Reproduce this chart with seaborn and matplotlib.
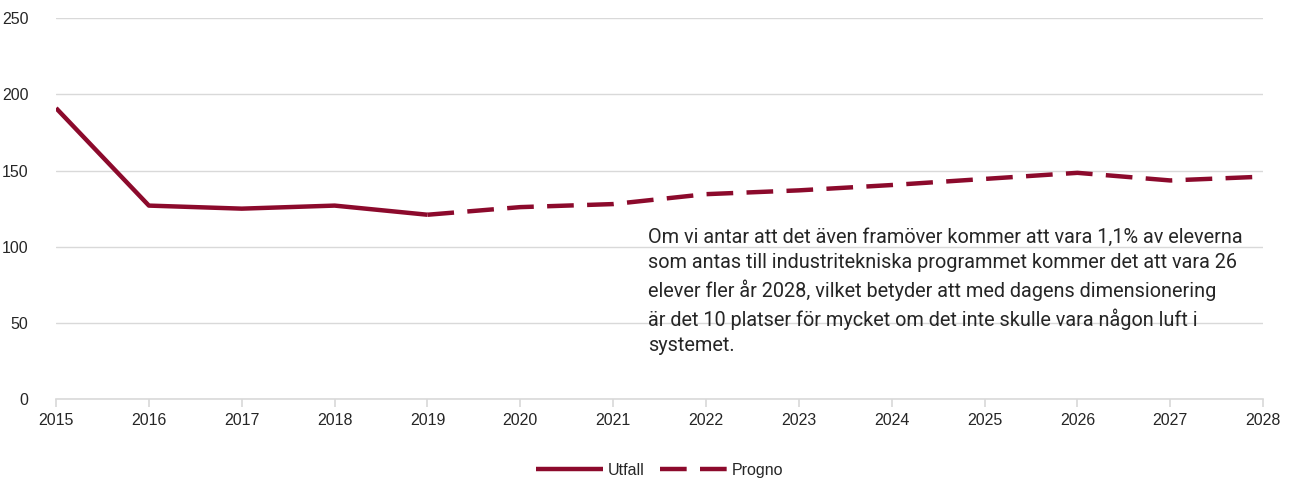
import matplotlib
matplotlib.use("Agg")
import matplotlib.pyplot as plt
import seaborn as sns
import pandas as pd

years_utfall = [2015, 2016, 2017, 2018, 2019]
utfall = [191, 127, 125, 127, 121]
years_progno = [2019, 2020, 2021, 2022, 2023, 2024, 2025, 2026, 2027, 2028]
progno = [121, 126, 128, 134.5, 137, 140.5, 144.5, 148.5, 143.5, 146]

note = ("Om vi antar att det även framöver kommer att vara 1,1% av eleverna\n"
        "som antas till industritekniska programmet kommer det att vara 26\n"
        "elever fler år 2028, vilket betyder att med dagens dimensionering\n"
        "är det 10 platser för mycket om det inte skulle vara någon luft i\n"
        "systemet.")

sns.set_theme(style="white")
plt.rcParams['font.family'] = ['Liberation Sans Narrow', 'Liberation Sans', 'DejaVu Sans']

color = "#8c0a2c"
fig = plt.figure(figsize=(12.91, 4.78), dpi=100)
ax = fig.add_axes([0.0434, 0.165, 0.935, 0.797])

df_u = pd.DataFrame({"year": years_utfall, "value": utfall})
df_p = pd.DataFrame({"year": years_progno, "value": progno})
sns.lineplot(data=df_u, x="year", y="value", ax=ax, color=color, lw=3.2,
             label="Utfall", solid_capstyle="butt")
sns.lineplot(data=df_p, x="year", y="value", ax=ax, color=color, lw=3.2,
             label="Progno", dashes=False, linestyle=(0, (6, 3)))

ax.set_xlim(2015, 2028)
ax.set_ylim(0, 250)
ax.set_yticks(range(0, 251, 50))
ax.set_xticks(range(2015, 2029))
ax.grid(axis="y", color="#d9d9d9", lw=1)
ax.set_axisbelow(True)
for s in ["top", "right", "left"]:
    ax.spines[s].set_visible(False)
ax.spines["bottom"].set_color("#d9d9d9")
ax.spines["bottom"].set_linewidth(1.2)
ax.tick_params(axis="x", bottom=True, length=6, color="#d9d9d9", labelsize=11.5, pad=4)
ax.tick_params(axis="y", left=False, labelsize=11.5, pad=14)
ax.set_xlabel("")
ax.set_ylabel("")

ax.text(2021.38, 112.5, note, fontsize=14.3, va="top", ha="left",
        linespacing=1.42, family=['Roboto', 'DejaVu Sans'])

leg = ax.legend(loc="upper center", bbox_to_anchor=(0.5, -0.13), ncol=2,
                frameon=False, fontsize=11.5, handlelength=4.2, columnspacing=1.0,
                handletextpad=0.3)

fig.savefig("out.png", dpi=100)
